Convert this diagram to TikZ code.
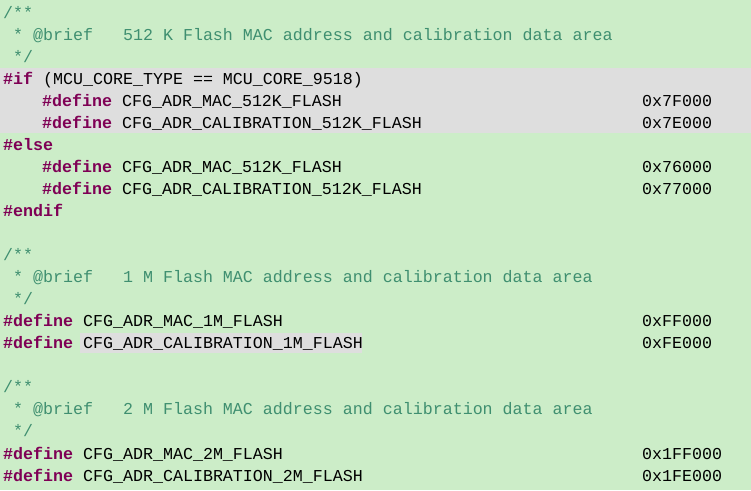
\documentclass[tikz,border=0pt]{standalone}
\usepackage{fontspec}
\setmonofont{Liberation Mono}
\definecolor{bg}{HTML}{CCEDC8}
\definecolor{hl}{HTML}{DEDEDE}
\definecolor{cm}{HTML}{3F8F70}
\definecolor{kw}{HTML}{7F0055}
\begin{document}
\begin{tikzpicture}[x=1pt,y=-1pt,
  ln/.style={anchor=base west,inner sep=0pt,font=\ttfamily\fontsize{16.65}{18}\selectfont},
  c/.style={ln,text=cm}]
\fill[bg] (0,0) rectangle (751,490);
\useasboundingbox (0,0) rectangle (751,490);
\fill[hl] (0,68) rectangle (751,133);
\fill[hl] (80,333) rectangle (362,353);
\def\K#1{{\color{kw}\bfseries\##1}}
\newcommand\Y[1]{18+22.05*#1}
\node[c] (l0) at (3,{\Y{0}}) {/**};
\node[c] (l1) at (3,{\Y{1}}) {\ * @brief \ \ 512 K Flash MAC address and calibration data area};
\node[c] (l2) at (3,{\Y{2}}) {\ */};
\node[ln] (l3) at (3,{\Y{3}}) {\K{if} (MCU\_CORE\_TYPE == MCU\_CORE\_9518)};
\node[ln] (l4) at (42,{\Y{4}}) {\K{define} CFG\_ADR\_MAC\_512K\_FLASH};
\node[ln] (v4) at (642,{\Y{4}}) {0x7F000};
\node[ln] (l5) at (42,{\Y{5}}) {\K{define} CFG\_ADR\_CALIBRATION\_512K\_FLASH};
\node[ln] (v5) at (642,{\Y{5}}) {0x7E000};
\node[ln] (l6) at (3,{\Y{6}}) {\K{else}};
\node[ln] (l7) at (42,{\Y{7}}) {\K{define} CFG\_ADR\_MAC\_512K\_FLASH};
\node[ln] (v7) at (642,{\Y{7}}) {0x76000};
\node[ln] (l8) at (42,{\Y{8}}) {\K{define} CFG\_ADR\_CALIBRATION\_512K\_FLASH};
\node[ln] (v8) at (642,{\Y{8}}) {0x77000};
\node[ln] (l9) at (3,{\Y{9}}) {\K{endif}};
\node[c] (l11) at (3,{\Y{11}}) {/**};
\node[c] (l12) at (3,{\Y{12}}) {\ * @brief \ \ 1 M Flash MAC address and calibration data area};
\node[c] (l13) at (3,{\Y{13}}) {\ */};
\node[ln] (l14) at (3,{\Y{14}}) {\K{define} CFG\_ADR\_MAC\_1M\_FLASH};
\node[ln] (v14) at (642,{\Y{14}}) {0xFF000};
\node[ln] (l15) at (3,{\Y{15}}) {\K{define} CFG\_ADR\_CALIBRATION\_1M\_FLASH};
\node[ln] (v15) at (642,{\Y{15}}) {0xFE000};
\node[c] (l17) at (3,{\Y{17}}) {/**};
\node[c] (l18) at (3,{\Y{18}}) {\ * @brief \ \ 2 M Flash MAC address and calibration data area};
\node[c] (l19) at (3,{\Y{19}}) {\ */};
\node[ln] (l20) at (3,{\Y{20}}) {\K{define} CFG\_ADR\_MAC\_2M\_FLASH};
\node[ln] (v20) at (642,{\Y{20}}) {0x1FF000};
\node[ln] (l21) at (3,{\Y{21}}) {\K{define} CFG\_ADR\_CALIBRATION\_2M\_FLASH};
\node[ln] (v21) at (642,{\Y{21}}) {0x1FE000};
\end{tikzpicture}
\end{document}
